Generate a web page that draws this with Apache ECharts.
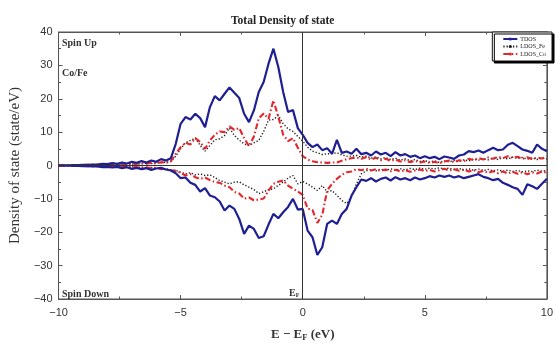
<!DOCTYPE html>
<html><head><meta charset="utf-8">
<script src="https://cdn.jsdelivr.net/npm/echarts@6/dist/echarts.min.js"></script>
<style>html,body{margin:0;padding:0;background:#fff}#c{width:556px;height:347px}</style>
</head><body><div id="c"></div>
<script>
// Energy grid E - E_F (eV)
const energy = [
 -10,-9.8,-9.6,-9.4,-9.2,-9,-8.8,-8.6,-8.4,-8.2,-8,
 -7.8,-7.6,-7.4,-7.2,-7,-6.8,-6.6,-6.4,-6.2,-6,
 -5.8,-5.6,-5.4,-5.2,-5,-4.8,-4.6,-4.4,-4.2,-4,
 -3.8,-3.6,-3.4,-3.2,-3,-2.8,-2.6,-2.4,-2.2,-2,
 -1.8,-1.6,-1.4,-1.2,-1,-0.8,-0.6,-0.4,-0.2,0,
 0.2,0.4,0.6,0.8,1,1.2,1.4,1.6,1.8,2,
 2.2,2.4,2.6,2.8,3,3.2,3.4,3.6,3.8,4,
 4.2,4.4,4.6,4.8,5,5.2,5.4,5.6,5.8,6,
 6.2,6.4,6.6,6.8,7,7.2,7.4,7.6,7.8,8,
 8.2,8.4,8.6,8.8,9,9.2,9.4,9.6,9.8,10
];
const tdosUp = [
 0,0,0,0.1,0.1,0.2,0.2,0.3,0.3,0.5,0.4,
 0.7,0.5,0.9,0.6,1.1,0.8,1.3,0.9,1.5,1.1,
 1.9,1.5,2.2,6.5,12.5,14.5,13.8,15.5,14.2,11.5,
 17.5,20.8,19.5,21.5,23.4,21.8,20.2,15.5,13.0,16.5,
 22.0,25.0,30.5,35.0,29.5,22.0,16.0,16.6,11.2,9.2,
 6.8,5.5,6.3,4.6,5.2,3.5,7.7,3.8,4.2,3.5,
 5.0,3.4,3.8,3.0,4.2,3.3,3.8,2.8,4.0,3.0,
 3.4,2.6,3.0,2.2,2.8,2.2,2.6,1.9,2.7,2.4,
 2.0,3.0,3.3,4.3,4.0,4.5,3.8,4.6,5.3,4.6,
 4.8,6.2,6.8,5.8,4.8,4.4,3.8,6.3,5.0,4.3
];
const tdosDown = [
 0,0,0,-0.1,-0.1,-0.2,-0.2,-0.3,-0.3,-0.5,-0.4,
 -0.6,-0.4,-0.8,-0.5,-1.0,-0.7,-1.1,-0.8,-1.3,-0.9,
 -0.7,-1.2,-1.5,-2.3,-3.8,-3.6,-5.2,-5.8,-7.8,-6.8,
 -9.0,-9.5,-10.8,-13.5,-12.0,-13.0,-16.0,-20.5,-18.0,-19.0,
 -21.7,-21.2,-17.7,-14.5,-15.8,-14.0,-12.4,-10.0,-13.2,-13.0,
 -19.5,-21.5,-26.8,-24.5,-17.5,-16.5,-17.5,-14.5,-13.0,-9.0,
 -6.5,-4.2,-4.6,-3.8,-4.8,-4.0,-3.6,-4.5,-3.5,-4.2,
 -3.8,-4.4,-3.6,-4.2,-3.8,-3.2,-3.6,-3.0,-3.4,-3.0,
 -3.6,-3.2,-3.8,-3.4,-3.0,-2.6,-3.4,-3.8,-4.4,-4.0,
 -5.2,-5.8,-6.5,-7.0,-8.8,-5.6,-6.2,-7.0,-5.5,-4.0
];
const feUp = [
 0,0,0,0.1,0.1,0.1,0.1,0.2,0.2,0.2,0.3,
 0.3,0.4,0.3,0.5,0.4,0.6,0.5,0.7,0.6,0.8,
 0.9,1.0,1.2,2.8,5.0,6.8,7.5,8.2,6.0,4.3,
 6.0,7.7,8.0,9.0,11.2,9.0,7.6,6.5,6.0,6.8,
 7.5,10.2,13.6,13.8,15.0,12.5,11.0,10.2,8.7,7.3,
 5.5,4.3,3.8,3.3,3.5,3.6,3.8,3.2,2.8,2.8,
 3.0,2.5,2.8,2.2,2.6,2.0,2.4,1.8,2.2,1.6,
 2.0,1.4,1.8,1.2,1.5,1.0,1.4,0.9,1.3,1.1,
 1.5,1.2,1.7,1.4,1.9,1.6,2.0,1.7,2.2,1.8,
 2.3,2.0,2.5,2.1,2.4,1.9,2.3,1.8,2.2,2.0
];
const feDown = [
 0,0,0,-0.1,-0.1,-0.1,-0.1,-0.2,-0.2,-0.2,-0.3,
 -0.3,-0.4,-0.3,-0.5,-0.4,-0.6,-0.5,-0.7,-0.6,-0.8,
 -0.9,-1.1,-1.3,-1.5,-2.0,-2.5,-2.2,-2.8,-2.5,-3.0,
 -2.8,-3.6,-4.5,-5.0,-5.5,-5.0,-4.9,-5.8,-6.5,-7.2,
 -8.4,-7.9,-7.2,-7.0,-6.0,-4.9,-3.8,-3.0,-5.5,-4.8,
 -5.5,-6.5,-7.5,-6.0,-7.9,-7.5,-8.9,-10.5,-11.4,-9.4,
 -5.5,-2.5,-1.6,-1.2,-1.6,-1.1,-1.5,-1.0,-1.4,-1.0,
 -1.3,-0.9,-1.2,-0.8,-1.1,-0.8,-1.0,-0.7,-1.0,-0.8,
 -1.2,-0.9,-1.3,-1.0,-1.4,-1.1,-1.5,-1.2,-1.6,-1.3,
 -1.7,-1.4,-1.8,-1.5,-1.9,-1.6,-1.8,-1.4,-1.7,-1.5
];
const coUp = [
 0,0,0,0.1,0.1,0.1,0.2,0.2,0.2,0.3,0.3,
 0.4,0.3,0.5,0.4,0.6,0.5,0.7,0.5,0.8,0.6,
 1.0,0.8,1.3,3.5,5.5,6.8,6.3,8.2,7.0,5.0,
 7.5,9.2,10.2,10.0,11.7,10.7,11.2,8.2,5.8,8.7,
 14.1,15.6,14.0,19.5,14.6,9.2,7.3,8.2,5.3,2.8,
 1.8,1.3,1.0,0.9,0.8,0.9,0.9,1.4,1.9,2.2,
 2.4,2.0,2.5,1.8,2.3,1.6,2.0,1.4,1.8,1.2,
 1.6,1.0,1.4,0.9,1.2,0.8,1.1,0.7,1.2,1.5,
 1.0,1.6,1.3,2.0,1.6,2.2,1.8,2.4,2.0,2.6,
 2.2,2.8,2.3,2.6,2.0,2.5,1.9,2.4,2.1,2.6
];
const coDown = [
 0,0,0,-0.1,-0.1,-0.1,-0.2,-0.2,-0.2,-0.3,-0.3,
 -0.4,-0.3,-0.5,-0.4,-0.6,-0.5,-0.7,-0.5,-0.8,-0.6,
 -1.1,-1.0,-1.4,-1.6,-2.2,-3.0,-2.6,-3.5,-4.0,-3.6,
 -4.4,-4.9,-5.2,-6.0,-6.5,-7.9,-8.4,-9.9,-9.6,-10.4,
 -10.2,-9.9,-7.5,-5.5,-4.9,-4.5,-6.0,-7.0,-7.8,-8.8,
 -12.9,-13.3,-17.2,-14.8,-7.5,-5.5,-4.0,-2.8,-2.0,-1.8,
 -1.1,-1.4,-1.0,-1.5,-1.1,-1.6,-1.2,-1.7,-1.3,-1.8,
 -1.4,-1.9,-1.5,-1.2,-1.7,-1.3,-1.8,-1.4,-1.0,-1.5,
 -1.1,-1.6,-1.2,-1.8,-1.4,-2.0,-1.6,-2.2,-1.7,-2.3,
 -1.8,-2.4,-1.9,-2.5,-2.0,-2.6,-2.1,-2.4,-1.8,-2.2
];
const seriesNames = ['TDOS','LDOS_Fe','LDOS_Co'];

const pairs = arr => energy.map((e,i)=>[e, arr[i]]);
const minus = v => String(v).replace('-', '\u2212');

const blue = '#1e1f93', red = '#e3262b', dark = '#222';
const serif = 'Liberation Serif';
const sans = 'Liberation Sans';

const mkSeries = (name, arr, color, type, width, z) => ({
  name, type:'line', data:pairs(arr), symbol:'none', smooth:false, z,
  lineStyle:{color, type, width}, itemStyle:{color}
});

const series = [
  mkSeries('LDOS_Fe', feUp, dark, [1.3,1.9], 1.4, 2),
  mkSeries('LDOS_Fe', feDown, dark, [1.3,1.9], 1.4, 2),
  mkSeries('LDOS_Co', coUp, red, [6,2.5,1.5,2.5], 2.1, 3),
  mkSeries('LDOS_Co', coDown, red, [6,2.5,1.5,2.5], 2.1, 3),
  mkSeries('TDOS', tdosUp, blue, 'solid', 2.2, 4),
  mkSeries('TDOS', tdosDown, blue, 'solid', 2.2, 4)
];
series[0].markLine = {
  silent:true, symbol:'none', label:{show:false},
  lineStyle:{color:'#333', type:'solid', width:1},
  data:[{yAxis:0},{xAxis:0}]
};

const axisCommon = {
  axisLine:{show:true, onZero:false, lineStyle:{color:'#555', width:1}},
  axisTick:{show:true, inside:true, length:4, lineStyle:{color:'#555'}},
  minorTick:{show:true, splitNumber:2, length:2.5, lineStyle:{color:'#555'}},
  splitLine:{show:false}
};

const chart = echarts.init(document.getElementById('c'), null, {renderer:'canvas'});
chart.setOption({
  animation:false,
  backgroundColor:'#fff',
  title:{text:'Total Density of state', left:226, top:10,
    textStyle:{fontFamily:serif, fontWeight:'bold', fontSize:11.5, color:'#222'}},
  grid:{left:57, right:3, top:32, bottom:43, show:true, borderColor:'#555', borderWidth:1},
  legend:{
    data:seriesNames, orient:'vertical', right:4, top:32,
    itemWidth:14, itemHeight:4, itemGap:1.5,
    padding:[4,6,4,10],
    backgroundColor:'#fff', borderColor:'#111', borderWidth:1,
    shadowColor:'#000', shadowOffsetX:2, shadowOffsetY:2, shadowBlur:0,
    textStyle:{fontFamily:serif, fontSize:6, color:'#222', padding:[0,0,0,-2]}
  },
  xAxis:[
    Object.assign({type:'value', min:-10, max:10, interval:5, position:'bottom',
      name:'{n|E \u2212 E}{s|F}{n| (eV)}', nameLocation:'middle', nameGap:29,
      nameTextStyle:{rich:{
        n:{fontFamily:serif, fontSize:13, fontWeight:'bold', color:'#333'},
        s:{fontFamily:serif, fontSize:8.5, fontWeight:'bold', color:'#333', padding:[5,0,0,0]}
      }},
      axisLabel:{margin:8, fontFamily:sans, fontSize:11, color:'#333', formatter:minus}
    }, axisCommon),
    Object.assign({type:'value', min:-10, max:10, interval:5, position:'top',
      axisLabel:{show:false}}, axisCommon)
  ],
  yAxis:[
    Object.assign({type:'value', min:-40, max:40, interval:10, position:'left',
      name:'Density of state (state/eV)', nameLocation:'middle', nameGap:29,
      nameTextStyle:{fontFamily:serif, fontSize:15, color:'#333'},
      axisLabel:{margin:6, fontFamily:sans, fontSize:11, color:'#333', formatter:minus}
    }, axisCommon),
    Object.assign({type:'value', min:-40, max:40, interval:10, position:'right',
      axisLabel:{show:false}}, axisCommon)
  ],
  graphic:[
    {type:'text', left:62, top:38, style:{text:'Spin Up', font:'bold 10px "Liberation Serif"', fill:'#333'}},
    {type:'text', left:62, top:68, style:{text:'Co/Fe', font:'bold 10px "Liberation Serif"', fill:'#333'}},
    {type:'text', left:62, top:289, style:{text:'Spin Down', font:'bold 10px "Liberation Serif"', fill:'#333'}},
    {type:'text', left:289, top:288, style:{text:'{a|E}{b|F}', rich:{
      a:{font:'bold 10px "Liberation Serif"', fill:'#333'},
      b:{font:'bold 6px "Liberation Serif"', fill:'#333', padding:[4,0,0,0]}}}}
  ],
  series
});
</script></body></html>
